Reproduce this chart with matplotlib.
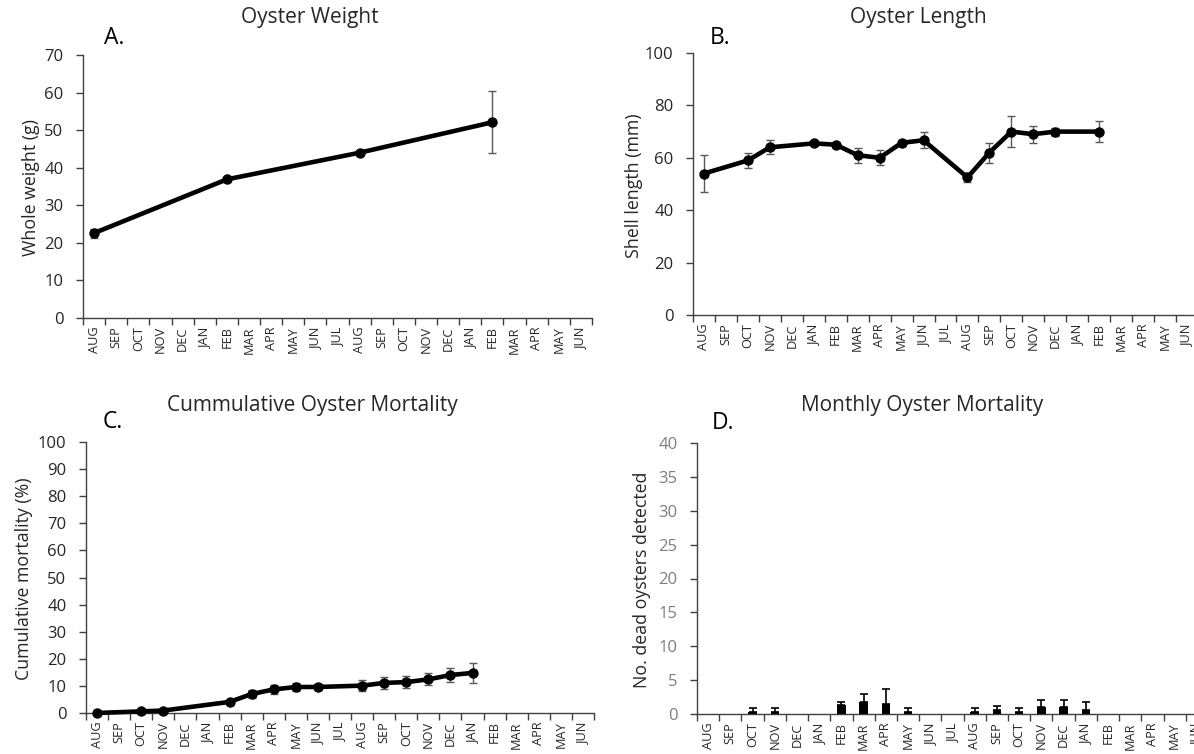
import numpy as np
import matplotlib
matplotlib.use("Agg")
import matplotlib.pyplot as plt
from matplotlib.ticker import FixedLocator, NullFormatter

plt.rcParams['font.family'] = ['Open Sans', 'DejaVu Sans']

months = ["AUG", "SEP", "OCT", "NOV", "DEC", "JAN", "FEB", "MAR", "APR", "MAY", "JUN", "JUL",
          "AUG", "SEP", "OCT", "NOV", "DEC", "JAN", "FEB", "MAR", "APR", "MAY", "JUN"]

# Panel A: whole weight (g)
weight_idx = [0, 6, 12, 18]
weight_val = [22.6, 36.9, 44.0, 52.1]
weight_err = [1.2, 0.6, 0.6, 8.2]

# Panel B: shell length (mm)
length_idx = [0, 2, 3, 5, 6, 7, 8, 9, 10, 12, 13, 14, 15, 16, 18]
length_val = [54.0, 59.0, 64.0, 65.5, 65.0, 61.0, 60.0, 65.7, 66.7, 52.5, 62.0, 70.0, 69.0, 70.0, 70.0]
length_err = [7.0, 2.8, 2.7, 0.8, 1.0, 2.8, 2.8, 1.0, 3.0, 1.8, 3.8, 6.0, 3.2, 1.5, 4.0]

# Panel C: cumulative mortality (%)
cum_idx = [0, 2, 3, 6, 7, 8, 9, 10, 12, 13, 14, 15, 16, 17]
cum_val = [0.0, 0.6, 0.9, 4.1, 7.0, 8.7, 9.6, 9.6, 10.1, 11.1, 11.4, 12.4, 14.0, 14.8]
cum_err = [0.0, 0.3, 0.4, 0.8, 1.4, 1.8, 1.4, 1.2, 2.0, 2.2, 2.3, 2.2, 2.5, 3.6]

# Panel D: monthly dead oysters
dead_idx = [2, 3, 6, 7, 8, 9, 12, 13, 14, 15, 16, 17]
dead_val = [0.33, 0.33, 1.33, 1.83, 1.5, 0.33, 0.33, 0.6, 0.33, 1.0, 1.0, 0.6]
dead_err = [0.6, 0.6, 0.5, 1.15, 2.2, 0.6, 0.6, 0.65, 0.6, 1.0, 1.0, 1.2]

W, H = 1194, 754
fig = plt.figure(figsize=(W / 100, H / 100), dpi=100)

SPINE = '#404040'
TXT = '#262626'


def px_axes(l, t, r, b):
    return fig.add_axes([l / W, 1 - b / H, (r - l) / W, (b - t) / H])


def style(ax, ylim, yticks, ytick_color=TXT):
    ax.set_xlim(0, len(months))
    ax.set_ylim(*ylim)
    ax.set_yticks(yticks)
    ax.xaxis.set_major_locator(FixedLocator(range(len(months) + 1)))
    ax.xaxis.set_major_formatter(NullFormatter())
    ax.xaxis.set_minor_locator(FixedLocator(np.arange(len(months)) + 0.5))
    ax.set_xticklabels(months, minor=True, rotation=90, fontsize=9.2, color=TXT)
    ax.tick_params(axis='x', which='minor', length=0, pad=6)
    ax.tick_params(axis='x', which='major', length=5, width=1, direction='out', color=SPINE)
    ax.tick_params(axis='y', length=5, width=1, direction='out', color=SPINE,
                   labelsize=12, labelcolor=ytick_color, pad=9)
    for s in ['top', 'right']:
        ax.spines[s].set_visible(False)
    for s in ['left', 'bottom']:
        ax.spines[s].set_color(SPINE)
        ax.spines[s].set_linewidth(1)


def line_panel(ax, idx, val, err):
    x = np.array(idx) + 0.5
    ax.errorbar(x, val, yerr=err, fmt='none', ecolor='#595959', elinewidth=1,
                capsize=3, capthick=1, zorder=2)
    ax.plot(x, val, '-o', color='black', lw=3.3, ms=6.5, zorder=3, clip_on=False)


def ftext(x, y, s, **kw):
    fig.text(x / W, 1 - y / H, s, ha='center', va='center', **kw)


# A
axA = px_axes(83, 55, 592, 318)
line_panel(axA, weight_idx, weight_val, weight_err)
style(axA, (0, 70), range(0, 71, 10))

# B
axB = px_axes(693, 53, 1198, 315)
line_panel(axB, length_idx, length_val, length_err)
style(axB, (0, 100), range(0, 101, 20))

# C
axC = px_axes(86, 442, 594, 713)
line_panel(axC, cum_idx, cum_val, cum_err)
style(axC, (0, 100), range(0, 101, 10))

# D
axD = px_axes(697, 443, 1208, 714)
xd = np.array(dead_idx) + 0.5
axD.bar(xd, dead_val, width=0.38, color='black', zorder=3)
axD.errorbar(xd, dead_val, yerr=[np.zeros(len(dead_err)), dead_err], fmt='none',
             ecolor='black', elinewidth=1.2, capsize=3, capthick=1.2, zorder=2)
style(axD, (0, 40), range(0, 41, 5), ytick_color='#7f7f7f')

# y-axis labels
ftext(31, 187, 'Whole weight (g)', fontsize=12.8, color=TXT, rotation=90)
ftext(634, 186, 'Shell length (mm)', fontsize=12.8, color=TXT, rotation=90)
ftext(24, 579, 'Cumulative mortality (%)', fontsize=12.8, color=TXT, rotation=90)
ftext(642, 580, 'No. dead oysters detected', fontsize=12.8, color=TXT, rotation=90)

# titles
ftext(310, 18, 'Oyster Weight', fontsize=15, color=TXT)
ftext(918, 17, 'Oyster Length', fontsize=15, color=TXT)
ftext(312, 405, 'Cummulative Oyster Mortality', fontsize=15, color=TXT)
ftext(922, 405, 'Monthly Oyster Mortality', fontsize=15, color=TXT)

# panel letters
ftext(114, 38, 'A.', fontsize=16.5, color='black')
ftext(720, 38, 'B.', fontsize=16.5, color='black')
ftext(113, 422, 'C.', fontsize=16.5, color='black')
ftext(723, 423, 'D.', fontsize=16.5, color='black')

fig.savefig('out.png', dpi=100)
